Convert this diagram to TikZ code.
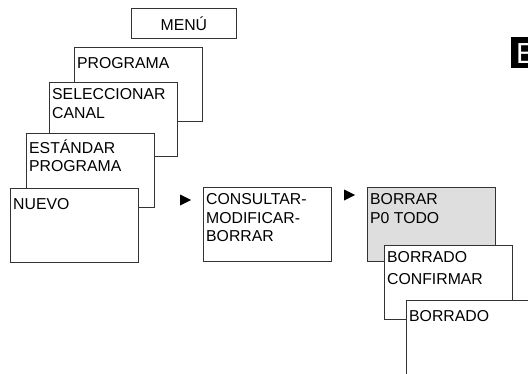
\documentclass[tikz,border=0pt]{standalone}
\usepackage{fontspec}
\setmainfont{Liberation Sans}
\usetikzlibrary{shapes}

\begin{document}
\begin{tikzpicture}
      [x=1pt,y=-1pt,
        screen/.style={draw=black!80,line width=0.8pt,fill=white,anchor=north west,
          minimum width=127.5pt,minimum height=74pt,inner sep=0pt},
        txt/.style={anchor=north west,align=left,inner xsep=3pt,inner ysep=6.5pt,
          font=\fontsize{15.8}{18.5}\selectfont,execute at begin node={\rule{0pt}{14.5pt}}},
        arrowhead/.style={isosceles triangle,isosceles triangle stretches,fill=black,
          minimum width=11pt,minimum height=11pt,inner sep=0pt},
        lang/.style={fill=black,text=white,anchor=north west,inner xsep=5pt,inner ysep=0pt,
          font=\fontsize{29}{29}\selectfont,text height=21pt,text depth=0pt,minimum height=31pt}]
  \clip (0,0) rectangle (528,373);
  \node[screen,minimum width=105pt,minimum height=30pt,
    font=\fontsize{15.8}{18.5}\selectfont] (menu) at (131,8) {MENÚ};
  \node[screen,label={[txt]north west:PROGRAMA}] (programa) at (74,47) {};
  \node[screen,label={[txt]north west:{SELECCIONAR\\CANAL}}] (canal) at (49,82) {};
  \node[screen,label={[txt]north west:{ESTÁNDAR\\PROGRAMA}}] (estandar) at (26,133) {};
  \node[screen,label={[txt]north west:NUEVO}] (nuevo) at (10,188) {};
  \node[arrowhead] (tri1) at (183.5,200) {};
  \node[screen,label={[txt]north west:{CONSULTAR-\\MODIFICAR-\\BORRAR}}] (consultar) at (203,187) {};
  \node[arrowhead] (tri2) at (347.5,195) {};
  \node[screen,fill=black!13,label={[txt]north west:{BORRAR\\P0 TODO}}] (borrar) at (367,187) {};
  \node[screen,label={[txt]north west:{BORRADO\\[3.5pt]CONFIRMAR}}] (confirmar) at (384,245) {};
  \node[screen,label={[txt]north west:BORRADO}] (borrado) at (406,300) {};
  \node[lang] (idioma) at (511,37) {E};
\end{tikzpicture}
\end{document}
